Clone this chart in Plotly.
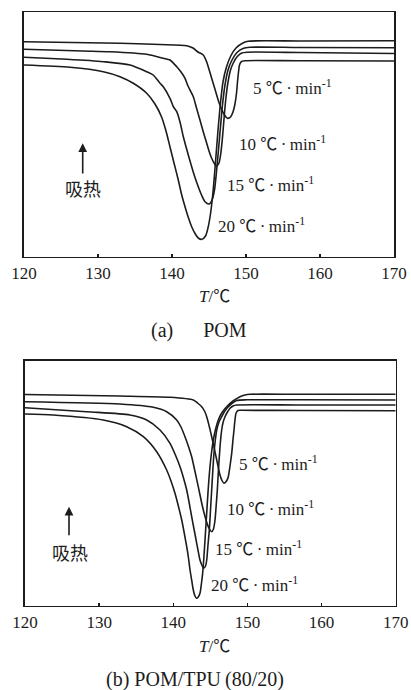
import plotly.graph_objects as go

# ---------------- data ----------------
# Panel (a) POM : temperature T (°C) and heat flow (arbitrary units)
a5_T = [120, 132.97, 138.38, 141.99, 142.84, 143.51, 144.23, 144.69, 145.07, 145.47, 145.88, 146.28,
        146.69, 147.09, 147.50, 147.91, 148.24, 148.51, 148.72, 148.85, 148.99, 149.12, 149.39, 149.86,
        157.30, 170]
a5_H = [21.50, 21.34, 21.22, 21.10, 20.87, 20.47, 20.17, 19.47, 18.57, 17.57, 16.57, 15.57,
        14.77, 14.17, 13.84, 13.97, 14.47, 15.27, 16.37, 17.47, 18.47, 19.17, 19.52, 19.60,
        19.59, 19.57]

a10_T = [120, 127.97, 131.62, 136.58, 138.82, 139.73, 140.64, 141.22, 141.76, 142.16, 142.88, 143.31,
         143.78, 144.23, 144.69, 145.00, 145.36, 145.68, 146.04, 146.35, 146.62, 146.85, 147.07, 147.30,
         147.57, 147.91, 148.28, 148.82, 149.42, 150.14, 157.30, 170]
a10_H = [20.75, 20.57, 20.50, 20.24, 19.84, 19.67, 19.00, 18.47, 17.84, 17.07, 16.00, 14.87,
         13.67, 12.47, 11.34, 10.57, 9.84, 9.37, 9.07, 9.37, 10.47, 12.17, 14.17, 15.97,
         17.47, 18.67, 19.37, 20.02, 20.37, 20.45, 20.42, 20.32]

a15_T = [120, 125.81, 130.72, 134.32, 136.58, 137.47, 138.38, 138.82, 139.73, 140.18, 140.64, 141.08,
         141.53, 142.09, 142.66, 143.11, 143.55, 143.99, 144.46, 145.04, 145.41, 145.74, 146.01, 146.28,
         146.55, 146.82, 147.16, 147.57, 148.11, 148.78, 149.59, 150.54, 157.30, 170]
a15_H = [19.94, 19.74, 19.50, 19.17, 18.50, 18.17, 17.34, 17.00, 15.84, 15.00, 14.50, 13.47,
         12.00, 10.47, 9.00, 7.92, 7.00, 6.17, 5.50, 5.27, 5.67, 6.67, 8.47, 10.67,
         12.97, 15.17, 17.17, 18.67, 19.67, 20.42, 20.82, 20.94, 20.92, 20.90]

a20_T = [120, 126.22, 130.72, 132.97, 134.77, 136.58, 137.70, 138.58, 139.19, 139.73, 140.27, 140.85,
         141.28, 141.76, 142.23, 142.66, 143.11, 143.55, 144.05, 144.53, 144.86, 145.20, 145.54, 145.88,
         146.22, 146.55, 146.89, 147.36, 147.97, 148.65, 149.46, 150.27, 157.30, 170]
a20_H = [19.17, 18.94, 18.50, 18.00, 17.34, 16.34, 15.27, 14.00, 12.57, 10.97, 9.37, 7.67,
         6.27, 5.00, 3.87, 3.00, 2.32, 1.87, 1.74, 2.07, 2.87, 4.27, 6.47, 9.47,
         12.67, 15.37, 17.47, 18.97, 20.12, 20.87, 21.32, 21.54, 21.57, 21.59]

# Panel (b) POM/TPU (80/20)
b5_T = [120, 132.81, 139.56, 142.70, 143.27, 143.83, 144.21, 144.51, 144.84, 145.18, 145.52, 145.86,
        146.30, 146.57, 146.84, 147.18, 147.42, 147.65, 147.88, 148.05, 148.19, 148.32, 148.46, 148.73,
        149.27, 157.09, 170]
b5_H = [21.12, 20.97, 20.84, 20.57, 20.27, 19.90, 19.47, 18.90, 17.97, 16.90, 15.77, 14.57,
        13.07, 12.52, 12.24, 12.47, 12.90, 13.97, 15.24, 16.57, 17.57, 18.57, 19.24, 19.52,
        19.54, 19.52, 19.50]

b10_T = [120, 132.81, 137.30, 139.11, 140.46, 141.04, 141.58, 142.05, 142.48, 142.93, 143.37, 144.05,
         144.72, 145.18, 145.42, 145.63, 145.79, 145.94, 146.07, 146.21, 146.37, 146.53, 146.71, 146.98,
         147.31, 147.65, 148.06, 148.55, 157.09, 170]
b10_H = [20.40, 20.17, 19.84, 19.40, 18.57, 17.87, 16.90, 15.92, 14.90, 13.42, 11.90, 9.57,
         7.90, 7.40, 7.67, 8.57, 10.07, 11.57, 13.27, 14.90, 16.47, 17.57, 18.32, 18.90,
         19.37, 19.74, 19.97, 20.07, 20.07, 20.07]

b15_T = [120, 128.32, 134.16, 136.41, 138.21, 139.56, 140.23, 140.91, 141.38, 141.81, 142.15, 142.48,
         142.82, 143.16, 143.60, 143.85, 144.11, 144.35, 144.51, 144.68, 144.86, 145.02, 145.18, 145.33,
         145.49, 145.67, 145.86, 146.17, 146.53, 146.95, 147.42, 147.99, 148.55, 149.90, 157.09, 170]
b15_H = [19.80, 19.40, 19.07, 18.57, 17.57, 16.24, 15.17, 13.90, 12.77, 11.57, 10.27, 8.90,
         7.57, 6.24, 4.57, 4.07, 3.74, 3.97, 4.57, 6.07, 7.57, 9.57, 11.57, 13.47,
         15.24, 16.57, 17.57, 18.37, 18.90, 19.47, 19.90, 20.27, 20.52, 20.59, 20.59, 20.57]

b20_T = [120, 123.82, 130.56, 133.72, 135.96, 137.76, 139.11, 139.69, 140.23, 140.70, 141.14, 141.49,
         141.81, 142.06, 142.26, 142.50, 142.70, 142.90, 143.13, 143.37, 143.60, 143.79, 143.96, 144.13,
         144.28, 144.44, 144.59, 144.76, 144.95, 145.17, 145.40, 145.71, 146.07, 146.57, 147.20, 148.06,
         149.00, 149.67, 150.35, 157.09, 170]
b20_H = [19.17, 19.07, 18.57, 17.90, 16.90, 15.40, 13.57, 12.47, 11.24, 9.92, 8.57, 7.22,
         5.90, 4.72, 3.57, 2.47, 1.57, 1.02, 0.74, 0.87, 1.24, 2.17, 3.24, 4.87,
         6.57, 8.47, 10.24, 12.17, 13.90, 15.37, 16.57, 17.67, 18.57, 19.32, 19.90, 20.47,
         20.90, 21.07, 21.14, 21.14, 21.14]

x_ticks = [120, 130, 140, 150, 160, 170]
rate_labels = ["5", "10", "15", "20"]
caption_a = "(a)\u2003\u2002POM"
caption_b = "(b) POM/TPU\u2009(80/20)"

# ---------------- figure ----------------
W, H = 411, 690
def px(x):
    return x / W
def py(y):
    return 1 - y / H

SERIF = "Liberation Serif, Noto Sans CJK SC, serif"
CJK = "Noto Sans CJK SC, sans-serif"
INK = "#1c1c1c"

fig = go.Figure()
panels = [
    ([(a5_T, a5_H), (a10_T, a10_H), (a15_T, a15_H), (a20_T, a20_H)], "x", "y"),
    ([(b5_T, b5_H), (b10_T, b10_H), (b15_T, b15_H), (b20_T, b20_H)], "x2", "y2"),
]
for series, xa, ya in panels:
    for T, Hf in series:
        fig.add_trace(go.Scatter(x=T, y=Hf, mode="lines", xaxis=xa, yaxis=ya,
                                 line=dict(color=INK, width=1.6, shape="spline", smoothing=0.7),
                                 hoverinfo="skip", showlegend=False))

xcommon = dict(range=[120, 170], tickvals=x_ticks, ticks="inside", ticklen=3, tickwidth=1.5,
               tickcolor=INK, showline=True, linecolor=INK, linewidth=1.6, mirror=True,
               showgrid=False, zeroline=False, automargin=False,
               tickfont=dict(family=SERIF, size=17, color=INK))
ycommon = dict(showline=True, linecolor=INK, linewidth=1.6, mirror=True, showgrid=False,
               zeroline=False, showticklabels=False, ticks="", automargin=False)

fig.update_layout(
    template="none",
    width=W, height=H, margin=dict(l=0, r=0, t=0, b=0, autoexpand=False),
    paper_bgcolor="white", plot_bgcolor="white", showlegend=False,
    xaxis=dict(domain=[px(24), px(394)], anchor="y", **xcommon),
    yaxis=dict(domain=[py(256.7), py(12.3)], anchor="x", range=[0, 24.44], **ycommon),
    xaxis2=dict(domain=[px(25), px(395.7)], anchor="y2", **xcommon),
    yaxis2=dict(domain=[py(605.7), py(360.7)], anchor="x2", range=[0, 24.5], **ycommon),
)

ann = []
def label(text, x, y, size=17, xanchor="left", family=SERIF):
    ann.append(dict(text=text, x=px(x), y=py(y), xref="paper", yref="paper",
                    xanchor=xanchor, yanchor="middle", showarrow=False,
                    font=dict(family=family, size=size, color=INK)))

rate_pos_a = [(250.7, 86.7), (236.7, 142.7), (225, 184.3), (216, 225)]
rate_pos_b = [(236.7, 462.7), (225, 508.3), (213.3, 547.7), (209.3, 584.3)]
for lab, (x, y) in zip(rate_labels, rate_pos_a):
    label(f"{lab} ℃\u2009·\u2009min<sup>-1</sup>", x, y)
for lab, (x, y) in zip(rate_labels, rate_pos_b):
    label(f"{lab} ℃\u2009·\u2009min<sup>-1</sup>", x, y)

# endotherm arrows and labels
for (xa, ytip, ytail, ylab) in [(82.7, 143.3, 175, 188.3), (69, 506.7, 536.7, 552.3)]:
    ann.append(dict(x=px(xa), y=py(ytip), xref="paper", yref="paper", ax=0, ay=ytail - ytip,
                    axref="pixel", ayref="pixel", showarrow=True, arrowhead=2, arrowsize=1.1,
                    arrowwidth=1.6, arrowcolor=INK, text=""))
    label("吸热", xa + 0.6, ylab, size=18, xanchor="center", family=CJK)

# axis titles
label("<i>T</i>/℃", 214, 297, xanchor="center")
label("<i>T</i>/℃", 214, 646, xanchor="center")
# captions
label(caption_a, 199, 330, size=20, xanchor="center")
label(caption_b, 195, 679, size=20, xanchor="center")

fig.update_layout(annotations=ann)
fig.write_html("out.html", config={"displayModeBar": False, "staticPlot": True},
               post_script="document.body.style.margin='0';document.body.style.overflow='hidden';")
